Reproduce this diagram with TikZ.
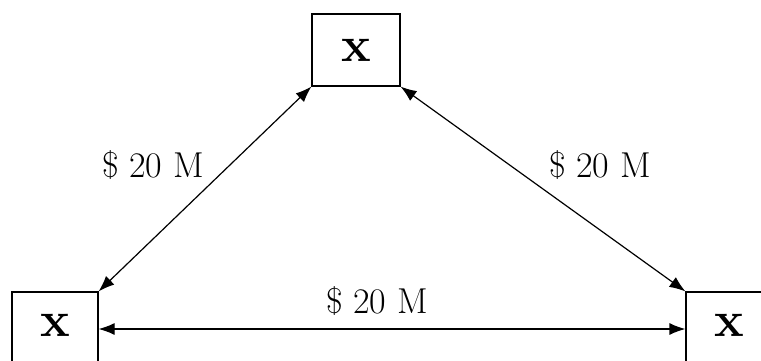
\documentclass[tikz,border=0pt]{standalone}
\usepackage{fontspec}
\usetikzlibrary{arrows.meta, positioning}

\begin{document}
\begin{tikzpicture}[
    x=1pt, y=-1pt,
    box/.style={draw, rectangle, line width=1.2pt, minimum width=86pt, minimum height=74pt, inner sep=0pt, font=\fontsize{50}{50}\selectfont\bfseries},
    price/.style={inner sep=0pt, font=\fontsize{36}{36}\selectfont},
    link/.style={{Latex[length=16pt,width=12pt]}-{Latex[length=16pt,width=12pt]}, line width=1.2pt}
]
\useasboundingbox (0,0) rectangle (761,361);
\clip (0,0) rectangle (761,361);

% Boxes
\node[box, minimum width=88pt, minimum height=72pt] (T) at (356,50) {x};
\node[box] (L) at (55,329) {\raisebox{7pt}{x}};
\node[box] (R) at (729,329) {\raisebox{7pt}{x}};

% Edges
\draw[link] (T.south west) -- (L.north east);
\draw[link] (T.south east) -- (R.north west);
\draw[link] (L.east) -- (R.west);

% Prices
\node[price] (pL) at (153,165) {\$ 20 M};
\node[price] (pR) at (600,165) {\$ 20 M};
\node[price] (pB) at (377,301) {\$ 20 M};

\end{tikzpicture}
\end{document}
